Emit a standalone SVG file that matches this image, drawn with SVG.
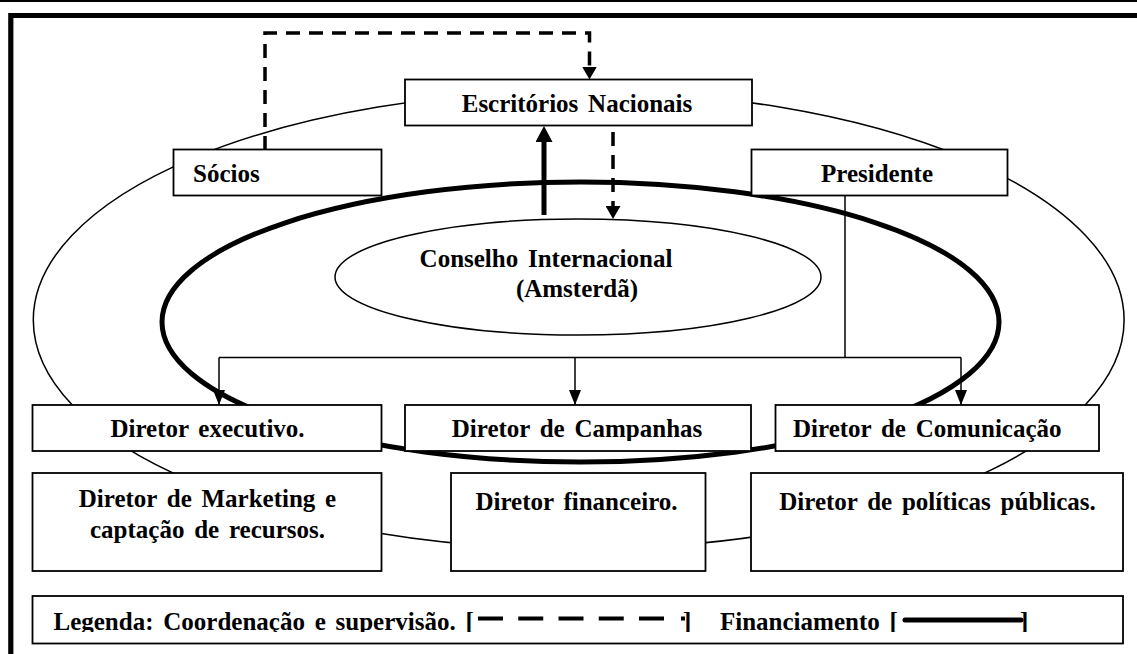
<svg xmlns="http://www.w3.org/2000/svg" width="1137" height="654" viewBox="0 0 1137 654">
<style>
.box{fill:#fff;stroke:#000;stroke-width:1.8}
.t{font-family:"Liberation Serif","Times New Roman",serif;font-weight:bold;font-size:25px;fill:#000;word-spacing:3.5px}
.m{text-anchor:middle}
.thin{fill:none;stroke:#000;stroke-width:1.5}
.dash{fill:none;stroke:#000;stroke-width:3.5;stroke-dasharray:14 9}
.thick{fill:none;stroke:#000;stroke-width:5}
</style>
<defs>
<marker id="ah" markerUnits="userSpaceOnUse" viewBox="0 0 15 12" markerWidth="15" markerHeight="12" refX="15" refY="6" orient="auto"><path d="M0,0 L15,6 L0,12 z" fill="#000"/></marker>
<marker id="ahd" markerUnits="userSpaceOnUse" viewBox="0 0 13 15" markerWidth="13" markerHeight="15" refX="0" refY="7.5" orient="auto"><path d="M0,0 L13,7.5 L0,15 z" fill="#000"/></marker>
<marker id="ahb" markerUnits="userSpaceOnUse" viewBox="0 0 16 17" markerWidth="16" markerHeight="17" refX="0" refY="8.5" orient="auto"><path d="M0,0 L16,8.5 L0,17 z" fill="#000"/></marker>
<clipPath id="clipLeg"><rect x="30" y="596" width="1100" height="36"/></clipPath>
<clipPath id="clipCamp"><rect x="405" y="405" width="347" height="36"/></clipPath>
</defs>
<rect width="1137" height="654" fill="#fff"/>
<g id="frame">
<rect x="0" y="0" width="1137" height="2" fill="#000"/>
<path d="M1137,15.5 H10.8 V654" fill="none" stroke="#000" stroke-width="5.2"/>
</g>
<g id="rings">
<ellipse cx="578.7" cy="320" rx="545.4" ry="229" class="thin"/>
<ellipse cx="580.5" cy="322" rx="418.5" ry="140" class="thick"/>
</g>
<g id="conselho">
<ellipse cx="578" cy="277" rx="243" ry="58" fill="#fff" stroke="#000" stroke-width="1.5"/>
<text class="t m" x="546" y="267">Conselho Internacional</text>
<text class="t m" x="577" y="297">(Amsterdã)</text>
</g>
<g id="connectors">
<path d="M265,150 V33 H589.5 V66.5" class="dash" marker-end="url(#ahd)"/>
<path d="M613,132 V206" class="dash" marker-end="url(#ahd)"/>
<path d="M544,215 V142" class="thick" marker-end="url(#ahb)"/>
<path d="M845,196 V357.5" class="thin"/>
<path d="M219,357.5 H961" class="thin"/>
<path d="M219,357.5 V405" class="thin" marker-end="url(#ah)"/>
<path d="M575,357.5 V405" class="thin" marker-end="url(#ah)"/>
<path d="M961,357.5 V405" class="thin" marker-end="url(#ah)"/>
</g>
<g id="escritorios">
<rect class="box" x="405" y="79.5" width="347" height="46"/>
<text class="t m" x="577" y="112">Escritórios Nacionais</text>
</g>
<g id="socios">
<rect class="box" x="173.5" y="149.5" width="208" height="46"/>
<text class="t" x="193" y="182">Sócios</text>
</g>
<g id="presidente">
<rect class="box" x="751.5" y="149.5" width="256" height="46"/>
<text class="t m" x="877" y="182">Presidente</text>
</g>
<g id="dir-executivo">
<rect class="box" x="32.5" y="405" width="349" height="46"/>
<text class="t m" x="207.5" y="437">Diretor executivo.</text>
</g>
<g id="dir-campanhas">
<rect class="box" x="405" y="405" width="346" height="46"/>
<text class="t m" x="577" y="437" clip-path="url(#clipCamp)">Diretor de Campanhas</text>
</g>
<g id="dir-comunicacao">
<rect class="box" x="775.5" y="405" width="323.5" height="46"/>
<text class="t" x="793" y="437">Diretor de Comunicação</text>
</g>
<g id="dir-marketing">
<rect class="box" x="32.5" y="473" width="349" height="98"/>
<text class="t m" x="207.5" y="507">Diretor de Marketing e</text>
<text class="t m" x="207.5" y="538">captação de recursos.</text>
</g>
<g id="dir-financeiro">
<rect class="box" x="451" y="473" width="254.5" height="98"/>
<text class="t m" x="576.5" y="510">Diretor financeiro.</text>
</g>
<g id="dir-politicas">
<rect class="box" x="751" y="473" width="372" height="98"/>
<text class="t m" x="937.5" y="510">Diretor de políticas públicas.</text>
</g>
<g id="legenda">
<rect class="box" x="32.5" y="596" width="1090.5" height="47.5"/>
<g clip-path="url(#clipLeg)">
<text class="t" x="53.5" y="630">Legenda: Coordenação e supervisão. [</text>
<text class="t" x="683" y="630">]</text>
<text class="t" x="720" y="630">Financiamento [</text>
<text class="t" x="1020" y="630">]</text>
</g>
<path d="M478,618.5 H664" fill="none" stroke="#000" stroke-width="4" stroke-dasharray="25 15.25"/>
<path d="M681,618.5 H685" fill="none" stroke="#000" stroke-width="4"/>
<path d="M905,620 H1021" fill="none" stroke="#000" stroke-width="5" stroke-linecap="round"/>
</g>
</svg>
